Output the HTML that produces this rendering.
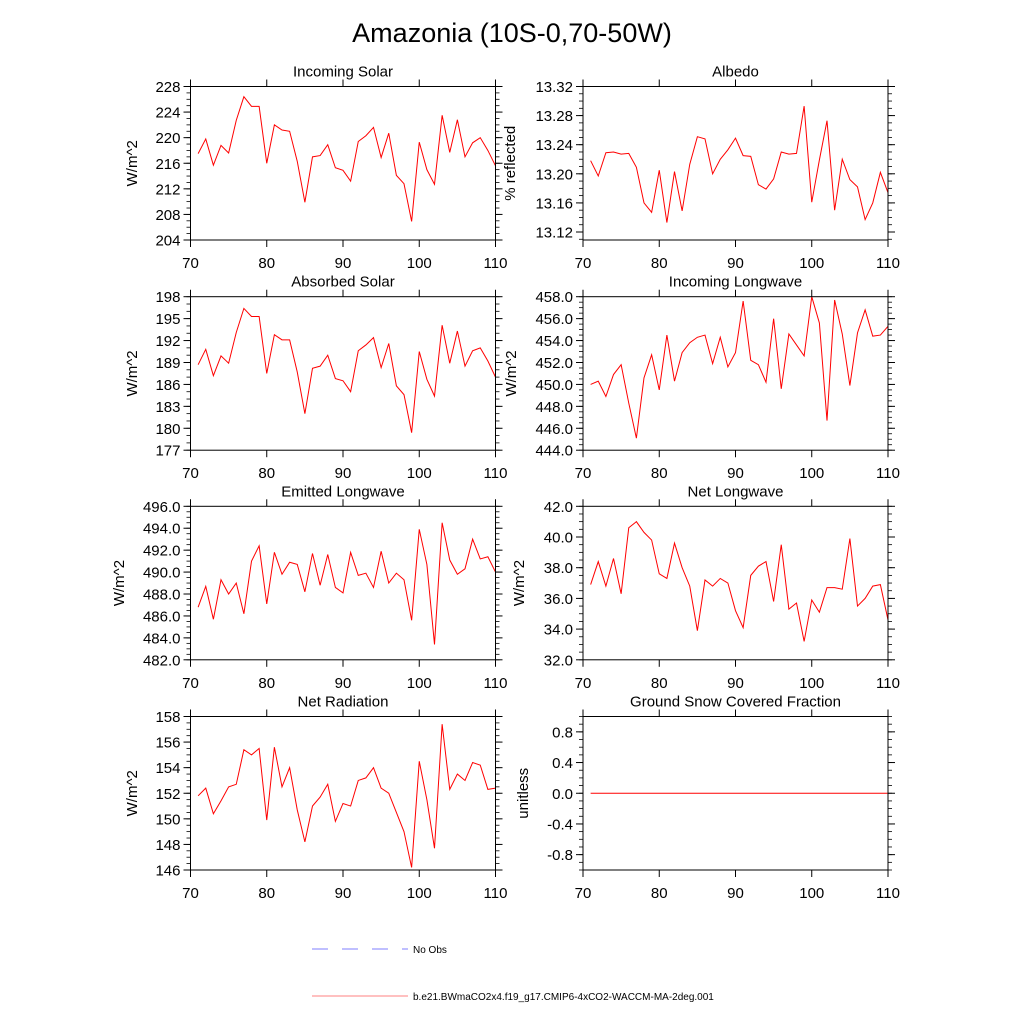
<!DOCTYPE html>
<html><head><meta charset="utf-8">
<style>
html,body{margin:0;padding:0;background:#fff;}
svg{display:block;font-family:"Liberation Sans",Arial,sans-serif;}
</style></head>
<body>
<svg id="chart" width="1024" height="1024" viewBox="0 0 1024 1024" xmlns="http://www.w3.org/2000/svg">
<rect x="0" y="0" width="1024" height="1024" fill="#fff"/>
<text x="512" y="42" font-size="27" text-anchor="middle">Amazonia (10S-0,70-50W)</text>
<g>
<line x1="312" y1="949" x2="408" y2="949" stroke="#7f7fff" stroke-width="1" stroke-dasharray="16,14"/>
<text x="413" y="953" font-size="10">No Obs</text>
<line x1="312" y1="996" x2="408" y2="996" stroke="#ff8080" stroke-width="1"/>
<text x="413" y="1000" font-size="10">b.e21.BWmaCO2x4.f19_g17.CMIP6-4xCO2-WACCM-MA-2deg.001</text>
</g>
</svg>
<script>
const years = [];
for (let y = 71; y <= 110; y++) years.push(y);
const xTicks = [70, 80, 90, 100, 110];

const incomingSolar = [217.5,219.8,215.7,218.8,217.6,222.7,226.4,224.9,224.9,216,222,221.2,221,216.3,209.9,217,217.2,218.9,215.3,214.9,213.2,219.4,220.3,221.6,216.9,220.7,214.1,212.8,206.9,219.3,215,212.7,223.5,217.7,222.8,217,219.2,220,218,215.6];
const albedo = [13.218,13.197,13.229,13.230,13.227,13.228,13.209,13.160,13.147,13.205,13.133,13.203,13.149,13.213,13.251,13.248,13.200,13.220,13.233,13.249,13.225,13.224,13.185,13.179,13.193,13.230,13.227,13.228,13.293,13.161,13.219,13.273,13.150,13.220,13.192,13.182,13.137,13.160,13.202,13.174];
const absorbedSolar = [188.7,190.8,187.2,189.9,188.9,193.1,196.4,195.3,195.3,187.5,192.8,192.1,192.1,187.7,182.0,188.2,188.5,190,186.8,186.5,185,190.6,191.4,192.4,188.3,191.6,185.8,184.6,179.4,190.5,186.7,184.4,194.1,188.9,193.3,188.5,190.6,191,189.2,187];
const incomingLW = [450,450.3,448.9,450.9,451.8,448.3,445.1,450.6,452.7,449.5,454.5,450.3,452.9,453.8,454.3,454.5,451.9,454.3,451.6,452.9,457.6,452.2,451.8,450.2,456,449.6,454.6,453.6,452.6,458,455.6,446.7,457.7,454.6,449.9,454.7,456.8,454.4,454.5,455.3];
const emittedLW = [486.8,488.7,485.7,489.3,488,489,486.2,491,492.4,487.1,491.8,489.8,490.9,490.7,488.2,491.7,488.8,491.6,488.6,488.1,491.8,489.7,489.9,488.6,491.9,489,489.9,489.3,485.6,493.9,490.7,483.4,494.5,491.1,489.8,490.3,493,491.2,491.4,490];
const netLW = [36.9,38.4,36.8,38.6,36.3,40.6,41,40.3,39.8,37.6,37.3,39.6,38,36.8,33.9,37.2,36.8,37.3,37,35.2,34.1,37.5,38.1,38.4,35.8,39.5,35.3,35.7,33.2,35.9,35.1,36.7,36.7,36.6,39.9,35.5,36,36.8,36.9,34.6];
const netRadiation = [151.8,152.4,150.4,151.4,152.5,152.7,155.4,155,155.5,149.9,155.6,152.5,154,150.7,148.2,151,151.7,152.7,149.8,151.2,151,153,153.2,154,152.4,152,150.5,149,146.2,154.5,151.5,147.7,157.4,152.3,153.5,153,154.4,154.2,152.3,152.4];
const snowFraction = [0,0,0,0,0,0,0,0,0,0,0,0,0,0,0,0,0,0,0,0,0,0,0,0,0,0,0,0,0,0,0,0,0,0,0,0,0,0,0,0];

const incomingSolarTicks = ["204","208","212","216","220","224","228"];
const albedoTicks = ["13.12","13.16","13.20","13.24","13.28","13.32"];
const absorbedSolarTicks = ["177","180","183","186","189","192","195","198"];
const incomingLWTicks = ["444.0","446.0","448.0","450.0","452.0","454.0","456.0","458.0"];
const emittedLWTicks = ["482.0","484.0","486.0","488.0","490.0","492.0","494.0","496.0"];
const netLWTicks = ["32.0","34.0","36.0","38.0","40.0","42.0"];
const netRadiationTicks = ["146","148","150","152","154","156","158"];
const snowTicks = ["-0.8","-0.4","0.0","0.4","0.8"];

const NS = "http://www.w3.org/2000/svg";
const svg = document.getElementById("chart");
function mk(tag, attrs, parent) {
  const e = document.createElementNS(NS, tag);
  for (const k in attrs) e.setAttribute(k, attrs[k]);
  (parent || svg).appendChild(e);
  return e;
}

const panels = [
  {name:"incoming-solar", title:"Incoming Solar", ylab:"W/m^2", data:incomingSolar, ticks:incomingSolarTicks, ymin:204, ymax:228, minor:1, col:0, row:0, ylx:137},
  {name:"albedo", title:"Albedo", ylab:"% reflected", data:albedo, ticks:albedoTicks, ymin:13.109, ymax:13.32, minor:0.01, col:1, row:0, ylx:515},
  {name:"absorbed-solar", title:"Absorbed Solar", ylab:"W/m^2", data:absorbedSolar, ticks:absorbedSolarTicks, ymin:177, ymax:198, minor:1, col:0, row:1, ylx:137},
  {name:"incoming-longwave", title:"Incoming Longwave", ylab:"W/m^2", data:incomingLW, ticks:incomingLWTicks, ymin:444, ymax:458, minor:0.5, col:1, row:1, ylx:516},
  {name:"emitted-longwave", title:"Emitted Longwave", ylab:"W/m^2", data:emittedLW, ticks:emittedLWTicks, ymin:482, ymax:496, minor:0.5, col:0, row:2, ylx:124},
  {name:"net-longwave", title:"Net Longwave", ylab:"W/m^2", data:netLW, ticks:netLWTicks, ymin:32, ymax:42, minor:0.5, col:1, row:2, ylx:524},
  {name:"net-radiation", title:"Net Radiation", ylab:"W/m^2", data:netRadiation, ticks:netRadiationTicks, ymin:146, ymax:158, minor:0.5, col:0, row:3, ylx:137},
  {name:"ground-snow-fraction", title:"Ground Snow Covered Fraction", ylab:"unitless", data:snowFraction, ticks:snowTicks, ymin:-1, ymax:1, minor:0.1, col:1, row:3, ylx:528}
];
const colX = [[190.5,495.5],[583,888]];
const rowY = [86.5,296.7,506.3,716.5];
const H = 153.5;

panels.forEach(p => {
  const x0 = colX[p.col][0], x1 = colX[p.col][1];
  const y0 = rowY[p.row], y1 = y0 + H;
  const xs = v => x0 + (v - 70) / 40 * (x1 - x0);
  const ys = v => y1 - (v - p.ymin) / (p.ymax - p.ymin) * H;
  const g = mk("g", {});
  
  
  const t = mk("text", {x:(x0+x1)/2, y:y0-10, "font-size":15, "text-anchor":"middle"}, g);
  t.textContent = p.title;
  
  
  // minor y ticks
  const nMinor = Math.round((p.ymax - p.ymin) / p.minor);
  const start = Math.ceil(p.ymin / p.minor - 1e-6);
  for (let i = start; i * p.minor <= p.ymax + 1e-9; i++) {
    const yy = ys(i * p.minor);
    mk("line", {x1:x0-4, x2:x0, y1:yy, y2:yy, stroke:"#000", "stroke-width":0.8}, g);
    mk("line", {x1:x1, x2:x1+4, y1:yy, y2:yy, stroke:"#000", "stroke-width":0.8}, g);
  }
  // major y ticks + labels
  p.ticks.forEach(lbl => {
    const yy = ys(parseFloat(lbl));
    mk("line", {x1:x0-7, x2:x0, y1:yy, y2:yy, stroke:"#000", "stroke-width":1}, g);
    mk("line", {x1:x1, x2:x1+7, y1:yy, y2:yy, stroke:"#000", "stroke-width":1}, g);
    const tx = mk("text", {x:x0-10, y:yy+5.5, "font-size":15, "text-anchor":"end"}, g);
    tx.textContent = lbl;
    
    
  });
  // x ticks
  xTicks.forEach(v => {
    const xx = xs(v);
    mk("line", {x1:xx, x2:xx, y1:y1, y2:y1+7, stroke:"#000", "stroke-width":1}, g);
    mk("line", {x1:xx, x2:xx, y1:y0-7, y2:y0, stroke:"#000", "stroke-width":1}, g);
    const tx = mk("text", {x:xx, y:y1+28, "font-size":15, "text-anchor":"middle"}, g);
    tx.textContent = String(v);
    
    
  });
  // y label
  const yl = mk("text", {x:p.ylx, y:(y0+y1)/2, "font-size":15, "text-anchor":"middle", transform:`rotate(-90 ${p.ylx} ${(y0+y1)/2})`}, g);
  yl.textContent = p.ylab;
  
  
  // series
  const pts = p.data.map((v, i) => xs(years[i]).toFixed(2) + "," + ys(v).toFixed(2)).join(" ");
  const pl = mk("polyline", {points:pts, fill:"none", stroke:"#ff0000", "stroke-width":1}, g);
  
  
  // frame
  const fr = mk("rect", {x:x0, y:y0, width:x1-x0, height:H, fill:"none", stroke:"#000", "stroke-width":1}, g);
  
  
});
</script>
</body></html>
